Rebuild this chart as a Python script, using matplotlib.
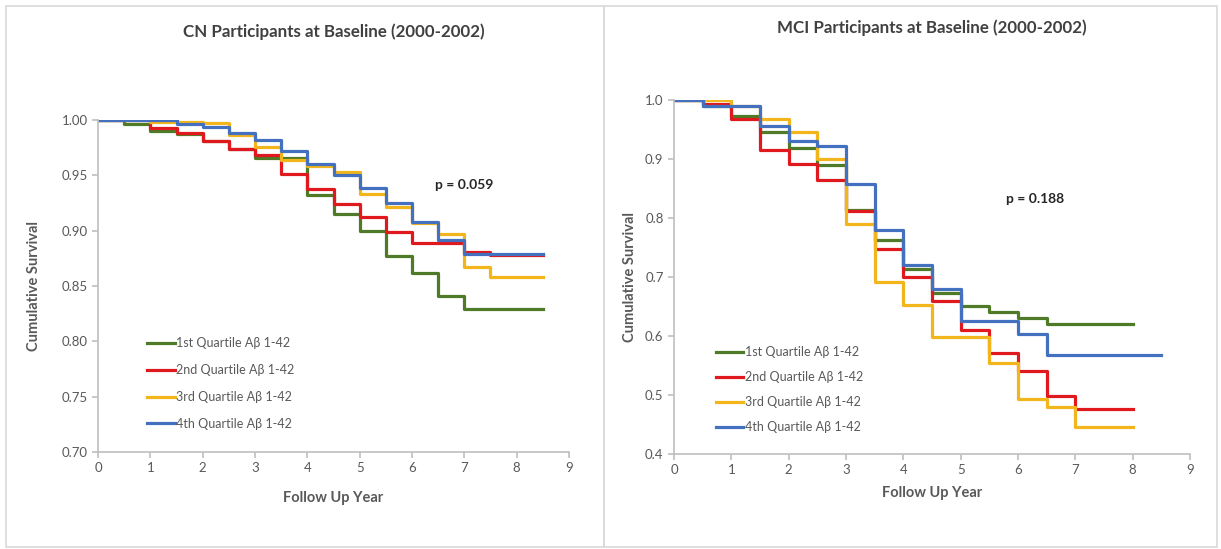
import matplotlib.pyplot as plt
import matplotlib.patches as patches
from matplotlib.lines import Line2D
from matplotlib.ticker import FormatStrFormatter

plt.rcParams['font.family'] = ['Lato', 'DejaVu Sans']

# series labels and colours
labels = ['1st Quartile A\u03b2 1-42', '2nd Quartile A\u03b2 1-42',
          '3rd Quartile A\u03b2 1-42', '4th Quartile A\u03b2 1-42']
colors = ['#4f7b28', '#e0191e', '#f2b51c', '#4470c0']

# CN panel: step times and survival (last value held to the end time)
cn_q1_t = [0, 0.5, 1, 1.5, 2, 2.5, 3, 4, 4.5, 5, 5.5, 6, 6.5, 7, 8.5]
cn_q1_s = [1.0, 0.996, 0.990, 0.987, 0.981, 0.974, 0.966, 0.932, 0.915, 0.900, 0.877, 0.862, 0.841, 0.829, 0.829]
cn_q2_t = [0, 1, 1.5, 2, 2.5, 3, 3.5, 4, 4.5, 5, 5.5, 6, 7, 7.5, 8.5]
cn_q2_s = [1.0, 0.993, 0.988, 0.981, 0.974, 0.968, 0.951, 0.938, 0.924, 0.912, 0.899, 0.889, 0.881, 0.878, 0.878]
cn_q3_t = [0, 1, 2, 2.5, 3, 3.5, 4, 4.5, 5, 5.5, 6, 6.5, 7, 7.5, 8.5]
cn_q3_s = [1.0, 0.998, 0.997, 0.986, 0.976, 0.964, 0.958, 0.953, 0.933, 0.921, 0.907, 0.897, 0.867, 0.858, 0.858]
cn_q4_t = [0, 1.5, 2, 2.5, 3, 3.5, 4, 4.5, 5, 5.5, 6, 6.5, 7, 8.5]
cn_q4_s = [1.0, 0.996, 0.994, 0.988, 0.982, 0.972, 0.960, 0.950, 0.939, 0.925, 0.908, 0.892, 0.879, 0.879]

# MCI panel
mci_q1_t = [0, 0.5, 1, 1.5, 2, 2.5, 3, 3.5, 4, 4.5, 5, 5.5, 6, 6.5, 8]
mci_q1_s = [1.0, 0.990, 0.973, 0.946, 0.918, 0.890, 0.813, 0.763, 0.713, 0.673, 0.651, 0.641, 0.630, 0.620, 0.620]
mci_q2_t = [0, 0.5, 1, 1.5, 2, 2.5, 3, 3.5, 4, 4.5, 5, 5.5, 6, 6.5, 7, 8]
mci_q2_s = [1.0, 0.993, 0.967, 0.916, 0.891, 0.865, 0.812, 0.748, 0.700, 0.660, 0.611, 0.572, 0.540, 0.499, 0.477, 0.477]
mci_q3_t = [0, 1, 1.5, 2, 2.5, 3, 3.5, 4, 4.5, 5.5, 6, 6.5, 7, 8]
mci_q3_s = [1.0, 0.990, 0.968, 0.946, 0.900, 0.790, 0.691, 0.653, 0.598, 0.555, 0.494, 0.480, 0.446, 0.446]
mci_q4_t = [0, 0.5, 1.5, 2, 2.5, 3, 3.5, 4, 4.5, 5, 6, 6.5, 8.5]
mci_q4_s = [1.0, 0.990, 0.956, 0.930, 0.922, 0.857, 0.780, 0.721, 0.680, 0.625, 0.603, 0.567, 0.567]

text_col = '#595959'
axis_col = '#bfbfbf'

fig = plt.figure(figsize=(12.21, 5.49), dpi=100)

# panel borders (pixel coords -> figure fraction)
W, H = 1221, 549
for x0, x1 in [(6, 604), (604, 1217)]:
    fig.add_artist(patches.Rectangle((x0 / W, 1 - 547 / H), (x1 - x0) / W, (547 - 6) / H,
                                     transform=fig.transFigure, fill=False,
                                     edgecolor='#d9d9d9', lw=1.2))


def panel(rect, series, ylim, yticks, yfmt, title, ptext, ppos, legpos, title_y, xpad, ypad, lspace):
    ax = fig.add_axes(rect)
    for (t, s), c, lab in zip(series, colors, labels):
        ax.step(t, s, where='post', color=c, lw=2.3, label=lab)
    ax.set_xlim(0, 9)
    ax.set_ylim(*ylim)
    ax.set_xticks(range(10))
    ax.set_yticks(yticks)
    ax.yaxis.set_major_formatter(FormatStrFormatter(yfmt))
    for sp in ['top', 'right']:
        ax.spines[sp].set_visible(False)
    for sp in ['left', 'bottom']:
        ax.spines[sp].set_color(axis_col)
        ax.spines[sp].set_linewidth(1.2)
    ax.tick_params(colors=axis_col, labelcolor=text_col, labelsize=9.5, length=4, width=1.2)
    ax.set_xlabel('Follow Up Year', fontsize=10.5, fontweight='bold', color=text_col, labelpad=xpad)
    ax.set_ylabel('Cumulative Survival', fontsize=10.5, fontweight='bold', color=text_col, labelpad=ypad)
    fig.text(rect[0] + rect[2] / 2, title_y, title, ha='center', va='center',
             fontsize=12.2, fontweight='bold', color='#404040')
    ax.text(ppos[0], ppos[1], ptext, fontsize=10, fontweight='bold', color='#262626',
            ha='center', va='center')
    handles = [Line2D([0], [0], color=c, lw=2.3) for c in colors]
    ax.legend(handles, labels, loc='upper left', bbox_to_anchor=legpos, frameon=False,
              fontsize=9, labelcolor=text_col, handlelength=2.2, handletextpad=0.1,
              labelspacing=lspace, borderpad=0, borderaxespad=0)
    return ax


panel([98 / W, 1 - 452 / H, 471 / W, 332 / H],
      [(cn_q1_t, cn_q1_s), (cn_q2_t, cn_q2_s), (cn_q3_t, cn_q3_s), (cn_q4_t, cn_q4_s)],
      (0.70, 1.00), [0.70, 0.75, 0.80, 0.85, 0.90, 0.95, 1.00], '%.2f',
      'CN Participants at Baseline (2000-2002)', 'p = 0.059', (7.0, 0.9415),
      (0.105, 0.345), 1 - 32 / H, 12, 15, 1.18)

panel([674 / W, 1 - 454 / H, 516 / W, 354 / H],
      [(mci_q1_t, mci_q1_s), (mci_q2_t, mci_q2_s), (mci_q3_t, mci_q3_s), (mci_q4_t, mci_q4_s)],
      (0.4, 1.0), [0.4, 0.5, 0.6, 0.7, 0.8, 0.9, 1.0], '%.1f',
      'MCI Participants at Baseline (2000-2002)', 'p = 0.188', (6.3, 0.832),
      (0.081, 0.305), 1 - 28 / H, 7, 6, 1.05)

plt.savefig('out.png', dpi=100)
